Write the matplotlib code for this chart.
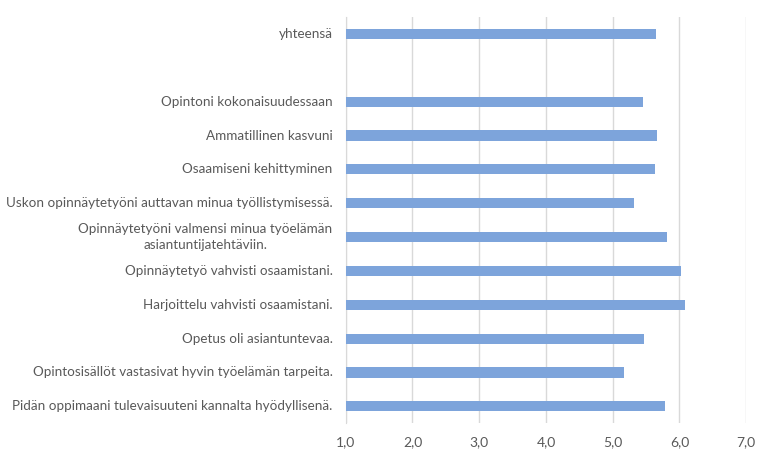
import numpy as np
import matplotlib.pyplot as plt

plt.rcParams['font.family'] = ['Lato', 'DejaVu Sans']

# categories from bottom to top ('' = empty slot)
labels = [
    'Pidän oppimaani tulevaisuuteni kannalta hyödyllisenä.',
    'Opintosisällöt vastasivat hyvin työelämän tarpeita.',
    'Opetus oli asiantuntevaa.',
    'Harjoittelu vahvisti osaamistani.',
    'Opinnäytetyö vahvisti osaamistani.',
    'Opinnäytetyöni valmensi minua työelämän\nasiantuntijatehtäviin.',
    'Uskon opinnäytetyöni auttavan minua työllistymisessä.',
    'Osaamiseni kehittyminen',
    'Ammatillinen kasvuni',
    'Opintoni kokonaisuudessaan',
    '',
    'yhteensä',
]
values = [5.78, 5.17, 5.47, 6.08, 6.03, 5.82, 5.32, 5.63, 5.67, 5.46, np.nan, 5.645]
xticks = [1, 2, 3, 4, 5, 6, 7]

fig = plt.figure(figsize=(7.7, 4.61), dpi=100)
ax = fig.add_axes([0.449, 0.082, 0.520, 0.881])

y = np.arange(len(labels))
base = 1.0
widths = [v - base if not np.isnan(v) else 0 for v in values]
ax.barh(y, widths, left=base, height=0.3, color='#7DA4DB', zorder=3)

ax.set_xlim(1, 7)
ax.set_ylim(-0.5, len(labels) - 0.5)
ax.set_xticks(xticks)
ax.set_xticklabels(['%d,0' % t for t in xticks])
ax.set_yticks([])
ax.tick_params(axis='x', length=0, pad=9, labelsize=10, labelcolor='#595959')

# category labels, right aligned next to the axis
for yi, lab in zip(y, labels):
    ax.text(-0.033, yi, lab, transform=ax.get_yaxis_transform(),
            ha='right', va='center', fontsize=9.7, color='#595959',
            multialignment='center', linespacing=1.45)

ax.grid(axis='x', color='#D9D9D9', linewidth=1, zorder=0)
for s in ['top', 'right', 'bottom']:
    ax.spines[s].set_visible(False)
ax.spines['left'].set_color('#D9D9D9')

plt.savefig('out.png')
